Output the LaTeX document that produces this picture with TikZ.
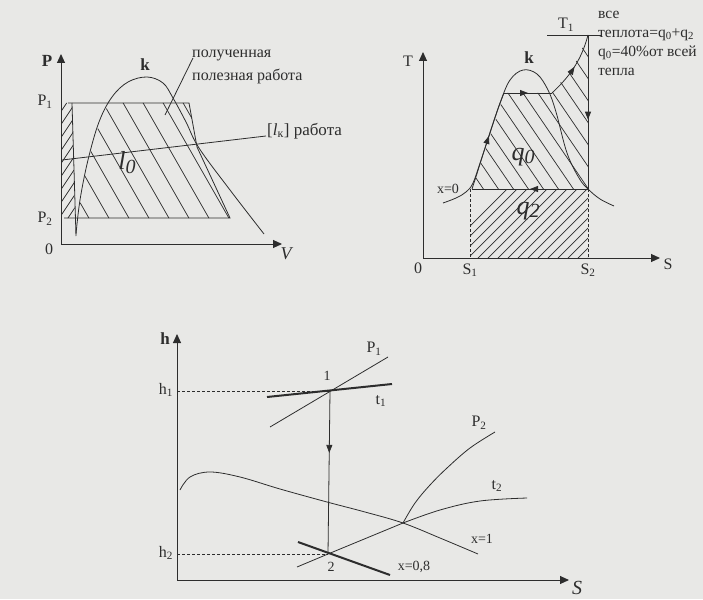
\documentclass[tikz,border=0pt]{standalone}
\usepackage{fontspec}
\setmainfont{Liberation Serif}
\usetikzlibrary{arrows.meta,decorations.markings}
\definecolor{ink}{RGB}{45,45,45}
\definecolor{paper}{RGB}{232,232,230}
\tikzset{
 ln/.style={draw=ink, line width=0.8pt},
 thk/.style={draw=ink, line width=2pt},
 axis/.style={draw=ink, line width=1pt, -{Triangle[length=9pt,width=8pt]}},
 hatch/.style={draw=ink, line width=0.7pt},
 lbl/.style={text=ink, inner sep=0pt, font=\fontsize{16}{18}\selectfont},
 blbl/.style={text=ink, inner sep=0pt, font=\fontsize{17}{19}\selectfont\bfseries},
 slbl/.style={text=ink, inner sep=0pt, font=\fontsize{14}{16}\selectfont},
 big/.style={text=ink, inner sep=0pt, font=\fontsize{26}{28}\selectfont\itshape},
 midarrow/.style={postaction={decorate},decoration={markings, mark=at position #1 with {\arrow{Triangle[length=8pt,width=6pt]}}}},
 dsh/.style={draw=ink, line width=0.8pt, dash pattern=on 3pt off 2pt},
}
\begin{document}
\begin{tikzpicture}[x=1pt,y=-1pt]
\fill[paper] (0,0) rectangle (703,599);
\useasboundingbox (0,0) rectangle (703,599);

% ================= P-V diagram =================
\coordinate (pvO) at (61,244);
\coordinate (pvP) at (61,54);
\coordinate (pvV) at (282,244);
\begin{scope}
\clip (78,218) -- (83,185) -- (93,143) -- (100,122) -- (109,103) -- (189,103) -- (197,147) -- (230,218) -- cycle;
\foreach \i in {0,...,14} \draw[hatch] (-10+\i*20,80) -- ++(80,140);
\end{scope}
\begin{scope}
\clip (61,103) -- (72,103) -- (75,218) -- (61,218) -- cycle;
\foreach \i in {0,...,12} \draw[hatch] (50,128+\i*13) -- ++(30,-45);
\end{scope}
\draw[axis] (pvO) -- (pvP);
\draw[axis] (pvO) -- (pvV);
\draw[ln] (68,103) -- (189,103) -- (197,147) -- (230,218) -- (64,218);
\draw[ln] (72,103) -- (76,236);
\draw[ln] plot[smooth,tension=0.6] coordinates {(76,234) (80,200) (88,160) (99,122) (112,97) (128,82) (147,77) (163,83) (173,98) (186,122) (199,148) (230,190) (264,234)};
\draw[ln] (62,160) -- (266,136);
\draw[ln] (193,58) -- (165,115);
\node[blbl] (lP) at (47,61) {P};
\node[lbl] (lP1) at (45,102) {P\textsubscript{1}};
\node[lbl] (lP2) at (45,219) {P\textsubscript{2}};
\node[lbl] (l0) at (49,249) {0};
\node[lbl,font=\fontsize{18}{20}\selectfont\itshape] (lV) at (286,254) {V};
\node[blbl] (lk1) at (145,65) {k};
\node[lbl,anchor=west] (lpol1) at (192,55) {полученная};
\node[lbl,anchor=west] (lpol2) at (192,76) {полезная работа};
\node[lbl,anchor=west,font=\fontsize{17}{19}\selectfont] (llk) at (267,131) {[\textit{l}\textsubscript{к}] работа};
\node[big] (ll0) at (127,163) {l\raisebox{-4pt}{\fontsize{20}{22}\selectfont 0}};

% ================= T-S diagram =================
\coordinate (tsO) at (423,258);
\coordinate (tsT) at (423,52);
\coordinate (tsS) at (660,258);
\begin{scope}
\clip (470,189) rectangle (588,258);
\foreach \i in {0,...,21} \draw[hatch] (430+\i*10,266) -- ++(80,-80);
\end{scope}
\begin{scope}
\clip (472,189) -- (481,163) -- (490,136) -- (499,110) -- (504,93) -- (552,93) -- (565,77) -- (577,60) -- (588,35) -- (588,189) -- cycle;
\foreach \i in {0,...,16} \draw[hatch] (360+\i*15,30) -- ++(120,176);
\end{scope}
\draw[axis] (tsO) -- (tsT);
\draw[axis] (tsO) -- (tsS);
\draw[dsh] (470,189) -- (470,258);
\draw[dsh] (588,189) -- (588,258);
\draw[ln] plot[smooth,tension=0.6] coordinates {(443,203) (456,198) (466,192) (473,183) (481,160) (490,133) (500,103) (510,80) (523,70) (537,74) (548,90) (556,112) (567,153) (579,178) (588,189) (600,199) (614,206)};
\coordinate (c1) at (588,189);
\coordinate (c2) at (472,189);
\coordinate (c3) at (504,93);
\coordinate (c4) at (552,93);
\coordinate (c5) at (588,35);
\draw[ln,midarrow=0.5] (c1) -- (c2);
\draw[ln,midarrow=0.55] (c2) .. controls (480,165) and (493,120) .. (c3);
\draw[ln,midarrow=0.5] (c3) -- (c4);
\draw[ln,midarrow=0.5] (c4) .. controls (568,78) and (581,62) .. (c5);
\draw[ln,midarrow=0.55] (c5) -- (c1);
\draw[ln] (547,35) -- (602,35);
\node[lbl] (lT) at (408,61) {T};
\node[blbl] (lk2) at (529,58) {k};
\node[lbl] (lT1) at (566,25) {T\textsubscript{1}};
\node[slbl] (lx0) at (448,189) {x=0};
\node[big] (lq0) at (523,157) {q\raisebox{-3pt}{\fontsize{20}{22}\selectfont 0}};
\node[big] (lq2) at (528,211) {q\raisebox{-3pt}{\fontsize{20}{22}\selectfont 2}};
\node[lbl] (l0b) at (418,268) {0};
\node[lbl] (lS1) at (470,270) {S\textsubscript{1}};
\node[lbl] (lS2) at (588,270) {S\textsubscript{2}};
\node[lbl] (lS) at (668,264) {S};
\node[text=ink,inner sep=0pt,anchor=north west,align=left,font=\fontsize{15.5}{19}\selectfont] (ltxt) at (598,11) {все\\теплота=q\textsubscript{0}+q\textsubscript{2}\\q\textsubscript{0}=40\%от всей\\тепла};

% ================= h-S diagram =================
\coordinate (hsO) at (177,580);
\coordinate (hsH) at (177,334);
\coordinate (hsS) at (569,580);
\draw[axis] (hsO) -- (hsH);
\draw[axis] (hsO) -- (hsS);
\coordinate (p1) at (330,391);
\coordinate (p2) at (328,554);
\coordinate (q) at (403,523);
\draw[dsh] (177,391) -- (p1);
\draw[dsh] (177,554) -- (p2);
\draw[thk] (267,397) -- (392,384);
\draw[ln] (270,427) -- (388,357);
\draw[ln,midarrow=0.38] (p1) -- (p2);
\draw[ln] plot[smooth,tension=0.6] coordinates {(180,490) (190,477) (210,472) (240,477) (280,489) (327,502) (365,512) (403,523) (440,538) (478,554)};
\draw[ln] (297,567) -- (p2) -- (q);
\draw[ln] plot[smooth,tension=0.6] coordinates {(403,523) (440,510) (480,501) (527,498)};
\draw[ln] plot[smooth,tension=0.6] coordinates {(403,523) (415,503) (430,485) (447,468) (470,448) (495,432)};
\draw[thk] (298,542) -- (390,575);
\node[blbl] (lh) at (165,339) {h};
\node[lbl] (lh1) at (166,390) {h\textsubscript{1}};
\node[lbl] (lh2) at (166,553) {h\textsubscript{2}};
\node[slbl] (l1) at (327,376) {1};
\node[slbl] (l2) at (331,567) {2};
\node[lbl] (lP1b) at (374,349) {P\textsubscript{1}};
\node[lbl] (lt1) at (381,401) {t\textsubscript{1}};
\node[lbl] (lP2b) at (479,423) {P\textsubscript{2}};
\node[lbl] (lt2) at (497,486) {t\textsubscript{2}};
\node[slbl] (lx1) at (482,539) {x=1};
\node[slbl] (lx08) at (414,567) {x=0,8};
\node[text=ink,inner sep=0pt,font=\fontsize{20}{22}\selectfont\itshape] (lSb) at (577,588) {S};
\end{tikzpicture}
\end{document}
